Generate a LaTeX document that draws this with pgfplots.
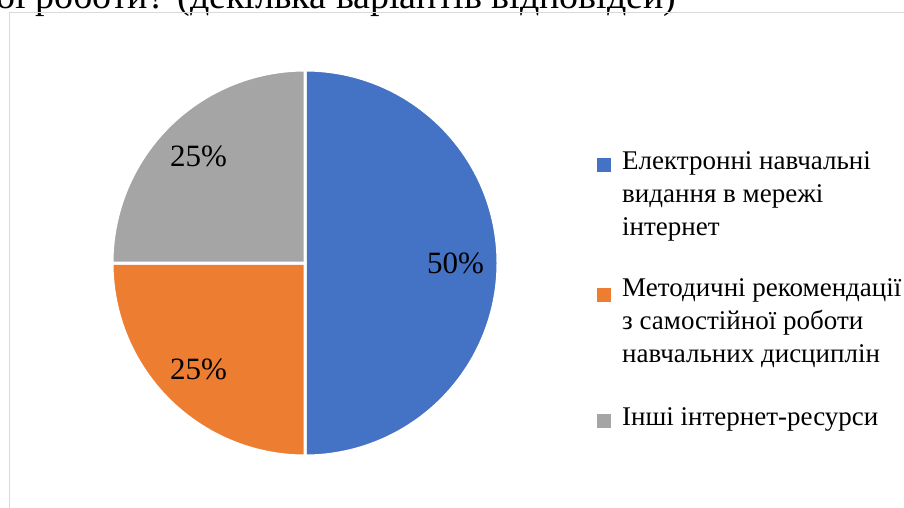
\documentclass[border=0pt]{standalone}
\usepackage{fontspec}
\setmainfont{Liberation Serif}
\usepackage{pgfplots}
\usepackage{pgfplotstable}
\pgfplotsset{compat=1.18}
\definecolor{cBlue}{HTML}{4472C4}
\definecolor{cOrange}{HTML}{ED7D31}
\definecolor{cGray}{HTML}{A5A5A5}
\newcommand\labelfont{\fontsize{31}{35}\selectfont}
\newcommand\legfont{\fontsize{27}{33}\selectfont}
\pgfplotstableread{
idx value colour
0 50 cBlue
1 25 cOrange
2 25 cGray
}\piedata
\begin{document}
\begin{tikzpicture}[x=1pt,y=1pt]
\useasboundingbox (0,0) rectangle (904,507);
\begin{scope}
\clip (0,0) rectangle (904,507);
\node[anchor=base west, font=\fontsize{38}{42}\selectfont, inner sep=0] at (-4,498) {ої роботи? (декілька варіантів відповідей)};
\draw[black!15, line width=1pt] (9.5,-10) -- (9.5,494.5) -- (920,494.5);
\end{scope}
\begin{axis}[hide axis, anchor=center, at={(305pt,244pt)}, x=193pt, y=193pt,
  xmin=-1.05, xmax=1.05, ymin=-1.05, ymax=1.05, clip=false]
\pgfplotstablegetrowsof{\piedata}
\pgfmathtruncatemacro\nrows{\pgfplotsretval-1}
\def\startangle{90}
\pgfplotsforeachungrouped \i in {0,...,\nrows}{%
  \pgfplotstablegetelem{\i}{value}\of\piedata \let\val\pgfplotsretval
  \pgfplotstablegetelem{\i}{colour}\of\piedata \let\col\pgfplotsretval
  \pgfmathsetmacro\endangle{\startangle-3.6*\val}%
  \pgfmathsetmacro\midangle{(\startangle+\endangle)/2}%
  \edef\temp{\noexpand\fill[\col, draw=white, line width=3pt] (axis cs:0,0) -- (axis cs:{cos(\startangle)},{sin(\startangle)}) arc[start angle=\startangle, end angle=\endangle, radius=193pt] -- cycle;
  \noexpand\node[font=\noexpand\labelfont] at (axis cs:{0.78*cos(\midangle)},{0.78*sin(\midangle)}) {\val\noexpand\%};}%
  \temp
  \global\let\startangle\endangle
}
\end{axis}
% legend
\fill[cBlue] (597,507-172) rectangle (611,507-158);
\fill[cOrange] (597,507-302) rectangle (611,507-288);
\fill[cGray] (597,507-428) rectangle (611,507-414);
\node[anchor=north west, inner sep=0, align=left, font=\legfont] at (622,507-151) {Електронні навчальні\\видання в мережі\\інтернет};
\node[anchor=north west, inner sep=0, align=left, font=\legfont] at (622,507-278) {Методичні рекомендації\\з самостійної роботи\\навчальних дисциплін};
\node[anchor=north west, inner sep=0, align=left, font=\legfont] at (622,507-407) {Інші інтернет-ресурси};
\end{tikzpicture}
\end{document}
